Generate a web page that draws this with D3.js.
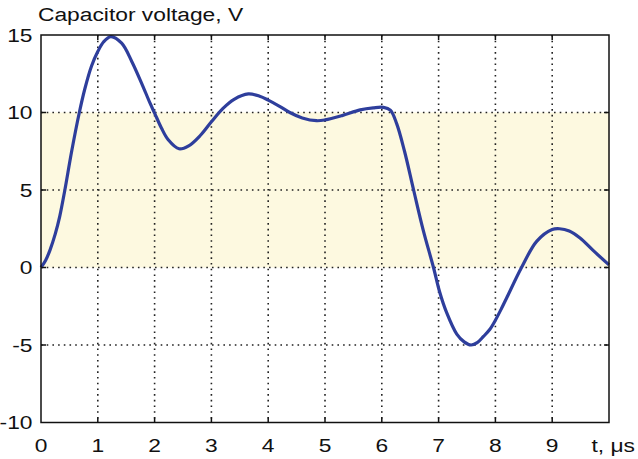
<!DOCTYPE html>
<html><head><meta charset="utf-8">
<script src="https://cdn.jsdelivr.net/npm/d3@7"></script>
<style>body{margin:0;background:#fff}svg{display:block}text{font-family:"Liberation Sans",Arial,sans-serif;fill:#111}</style>
</head><body><svg id="c" width="638" height="459"></svg>
<script>
const tValues = [0,0.08,0.16,0.25,0.33,0.42,0.54,0.675,0.77,0.89,1.0,1.1,1.23,1.42,1.6,1.77,1.92,2.0,2.12,2.24,2.43,2.6,2.8,3.0,3.2,3.4,3.65,3.85,4.0,4.2,4.38,4.6,4.85,5.0,5.3,5.62,5.85,6.03,6.15,6.26,6.4,6.56,6.73,6.91,7.02,7.14,7.32,7.45,7.57,7.68,7.79,7.9,8.0,8.1,8.2,8.46,8.73,9.0,9.13,9.3,9.49,9.72,10];
const voltage = [0,0.45,1.14,2.15,3.3,5.0,7.5,10.0,11.5,13.0,13.93,14.55,14.9,14.47,13.28,11.9,10.6,9.96,9.0,8.24,7.66,7.85,8.5,9.4,10.25,10.85,11.2,11.05,10.8,10.4,10.0,9.65,9.47,9.52,9.8,10.17,10.3,10.33,10.15,9.3,7.5,5.0,2.4,0,-1.6,-2.9,-4.3,-4.8,-5.0,-4.85,-4.45,-4.0,-3.4,-2.7,-1.95,0,1.7,2.45,2.5,2.35,1.9,1.1,0.17];
const xTicks = [0,1,2,3,4,5,6,7,8,9];
const yTicks = [-10,-5,0,5,10,15];
const band = [0,10];
const title = "Capacitor voltage, V";
const xLabel = "t, μs";

const svg = d3.select("#c");
const x = d3.scaleLinear().domain([0,10]).range([41,609]);
const y = d3.scaleLinear().domain([-10,15]).range([422.5,35]);
const SX = 1.2, FS = 19;

svg.append("rect").attr("x",x(0)).attr("y",y(band[1])).attr("width",x(10)-x(0)).attr("height",y(band[0])-y(band[1])).attr("fill","#fdf9e0");

const grid = svg.append("g").attr("stroke","#222").attr("stroke-width",1.6).attr("stroke-dasharray","1.6,4.1");
grid.selectAll(".gx").data(xTicks.filter(d=>d>0)).join("line")
  .attr("x1",d=>x(d)).attr("x2",d=>x(d)).attr("y1",y(15)).attr("y2",y(-10));
grid.selectAll(".gy").data(yTicks.filter(d=>d>-10&&d<15)).join("line")
  .attr("y1",d=>y(d)).attr("y2",d=>y(d)).attr("x1",x(0)).attr("x2",x(10));

const pts = tValues.map((t,i)=>[t,voltage[i]]);
svg.append("path").datum(pts)
  .attr("d",d3.line().x(d=>x(d[0])).y(d=>y(d[1])).curve(d3.curveCatmullRom.alpha(0.5)))
  .attr("fill","none").attr("stroke","#2e3e9c").attr("stroke-width",3.2).attr("stroke-linejoin","round");

const fr = svg.append("g").attr("stroke","#111").attr("stroke-width",1.5).attr("fill","none");
fr.append("rect").attr("x",x(0)).attr("y",y(15)).attr("width",x(10)-x(0)).attr("height",y(-10)-y(15));
const tl = 5;
fr.selectAll(".tb").data(xTicks.filter(d=>d>0)).join("line").attr("x1",d=>x(d)).attr("x2",d=>x(d)).attr("y1",y(-10)).attr("y2",y(-10)-tl);
fr.selectAll(".tt").data(xTicks.filter(d=>d>0)).join("line").attr("x1",d=>x(d)).attr("x2",d=>x(d)).attr("y1",y(15)).attr("y2",y(15)+tl);
fr.selectAll(".tr").data(yTicks.filter(d=>d>-10&&d<15)).join("line").attr("y1",d=>y(d)).attr("y2",d=>y(d)).attr("x1",x(10)).attr("x2",x(10)-tl);
fr.selectAll(".tlft").data(yTicks.filter(d=>d>-10&&d<15)).join("line").attr("y1",d=>y(d)).attr("y2",d=>y(d)).attr("x1",x(0)).attr("x2",x(0)+tl);

function label(px, py, anchor, str){
  svg.append("text").attr("transform",`translate(${px},${py}) scale(${SX},1)`)
    .attr("text-anchor",anchor).attr("font-size",FS).text(str);
}
yTicks.forEach(d=>label(32.5, y(d)+6.6, "end", d));
xTicks.forEach(d=>label(x(d), 451.5, "middle", d));
label(591.5, 451.5, "start", xLabel);
label(38, 21, "start", title);
</script></body></html>
